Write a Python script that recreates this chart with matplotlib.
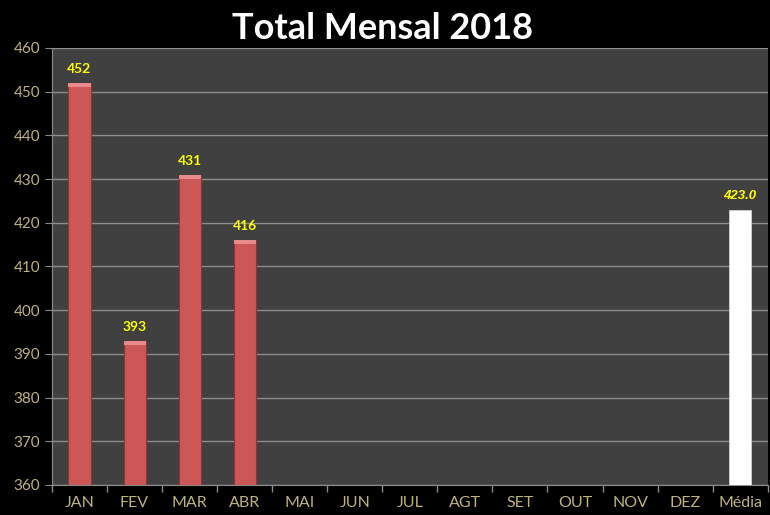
import numpy as np
import matplotlib
matplotlib.use("Agg")
import matplotlib.pyplot as plt

meses = ["JAN", "FEV", "MAR", "ABR", "MAI", "JUN", "JUL", "AGT", "SET", "OUT", "NOV", "DEZ", "Média"]
totais = [452, 393, 431, 416]
media = 423.0
yticks = [360, 370, 380, 390, 400, 410, 420, 430, 440, 450, 460]

plt.rcParams['font.family'] = ['Lato', 'DejaVu Sans']

fig = plt.figure(figsize=(7.7, 5.15), dpi=100, facecolor="black")
ax = fig.add_axes([0.0675, 0.0583, 0.9295, 0.8485])
ax.set_facecolor("#404040")

x = np.arange(len(meses))
largura = 0.4

# barras dos meses
ax.bar(x[:len(totais)], [t - 360 for t in totais], bottom=360, width=largura,
       color="#CD5656", edgecolor="#8E3535", linewidth=0.8, zorder=3)
# tampa mais clara no topo (efeito 3D)
ax.bar(x[:len(totais)], [0.9] * len(totais), bottom=[t - 0.9 for t in totais], width=largura,
       color="#E88A8A", linewidth=0, zorder=4)
for xi, t in zip(x, totais):
    ax.text(xi, t + 1.8, str(t), ha="center", va="bottom", color="#FFFF00",
            fontsize=10, fontweight="bold", zorder=5)

# barra da media
ax.bar(x[-1], media - 360, bottom=360, width=largura, color="white",
       edgecolor="#D0D0D0", linewidth=0.6, zorder=3)
ax.text(x[-1], media + 1.8, "%.1f" % media, ha="center", va="bottom", color="#FFFF00",
        fontsize=9.5, fontweight="bold", fontstyle="italic",
        family=["Liberation Sans", "DejaVu Sans"], zorder=5)

ax.set_xlim(-0.5, len(meses) - 0.5)
ax.set_ylim(360, 460)
ax.set_yticks(yticks)
ax.grid(axis="y", color="#8C8C8C", linewidth=1, zorder=1)

ax.set_xticks(x)
ax.set_xticklabels(meses)
ax.set_xticks(np.arange(-0.5, len(meses)), minor=True)
ax.tick_params(axis="x", which="major", length=0, pad=8, labelcolor="#BFB37A", labelsize=11.5)
ax.tick_params(axis="x", which="minor", length=5, color="#8C8C8C", width=1)
ax.tick_params(axis="y", length=5, color="#8C8C8C", labelcolor="#BFB37A", labelsize=11)

for s in ["top", "right"]:
    ax.spines[s].set_visible(False)
ax.spines["left"].set_color("#8C8C8C")
ax.spines["bottom"].set_color("#8C8C8C")

fig.text(0.497, 0.945, "Total Mensal 2018", ha="center", va="center", color="white",
         fontsize=26, fontweight="bold")

fig.savefig("out.png", dpi=100, facecolor="black")
